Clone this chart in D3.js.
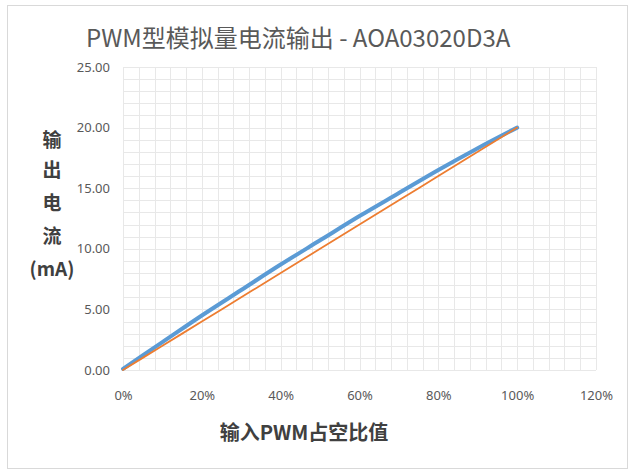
<!DOCTYPE html>
<html>
<head>
<meta charset="utf-8">
<script src="https://cdn.jsdelivr.net/npm/d3@7"></script>
<style>
  body { margin: 0; background: #fff; }
  text { font-family: "Noto Sans CJK SC", "Noto Sans", sans-serif; }
</style>
</head>
<body>
<script>
const width = 630;
const height = 474;

// duty cycle (%) and output current (mA)
const duty = [0, 10, 20, 30, 40, 50, 60, 70, 80, 90, 100];
const measured = [0.1, 2.3, 4.5, 6.6, 8.7, 10.7, 12.7, 14.6, 16.5, 18.3, 20.0];
const ideal = [0, 2, 4, 6, 8, 10, 12, 14, 16, 18, 20];

const xTicks = [0, 20, 40, 60, 80, 100, 120];
const yTicks = [0, 5, 10, 15, 20, 25];
const yLabel = ["输", "出", "电", "流", "(mA)"];

const svg = d3.select("body").append("svg")
  .attr("width", width).attr("height", height);

// outer frame
svg.append("rect")
  .attr("x", 7.5).attr("y", 5.5)
  .attr("width", 620).attr("height", 463)
  .attr("fill", "#fff").attr("stroke", "#d9d9d9");

const x = d3.scaleLinear().domain([0, 120]).range([123, 596]);
const y = d3.scaleLinear().domain([0, 25]).range([370, 67]);

// minor grid: every 4% and every 1 mA
const grid = svg.append("g").attr("stroke", "#e8e8e8").attr("stroke-width", 1);
grid.selectAll("line.v")
  .data(d3.range(0, 121, 4))
  .join("line")
  .attr("x1", (d) => Math.round(x(d)) + 0.5).attr("x2", (d) => Math.round(x(d)) + 0.5)
  .attr("y1", y(0)).attr("y2", y(25));
grid.selectAll("line.h")
  .data(d3.range(0, 26, 1))
  .join("line")
  .attr("y1", (d) => Math.round(y(d)) + 0.5).attr("y2", (d) => Math.round(y(d)) + 0.5)
  .attr("x1", x(0)).attr("x2", x(120));

// axes (labels only)
const xAxis = svg.append("g")
  .attr("transform", `translate(0,${y(0)})`)
  .call(d3.axisBottom(x).tickValues(xTicks).tickSize(0).tickPadding(21).tickFormat((d) => d + "%"));
const yAxis = svg.append("g")
  .attr("transform", `translate(${x(0)},0)`)
  .call(d3.axisLeft(y).tickValues(yTicks).tickSize(0).tickPadding(13).tickFormat(d3.format(".2f")));
[xAxis, yAxis].forEach((a) => {
  a.select(".domain").remove();
  a.selectAll("text")
    .attr("fill", "#595959")
    .style("font-size", "13px")
    .style("font-family", "'Noto Sans', sans-serif");
});

const line = d3.line()
  .x((d, i) => x(duty[i]))
  .y((d) => y(d))
  .curve(d3.curveMonotoneX);

svg.append("path")
  .datum(measured)
  .attr("d", line)
  .attr("fill", "none")
  .attr("stroke", "#5b9bd5")
  .attr("stroke-width", 4)
  .attr("stroke-linecap", "round");

svg.append("path")
  .datum(ideal)
  .attr("d", line)
  .attr("fill", "none")
  .attr("stroke", "#ed7d31")
  .attr("stroke-width", 1.8)
  .attr("stroke-linecap", "round");

// title
svg.append("text")
  .attr("x", 86).attr("y", 47)
  .attr("fill", "#595959")
  .style("font-size", "24px")
  .text("PWM型模拟量电流输出 - AOA03020D3A");

// y axis title, stacked
svg.append("g")
  .selectAll("text")
  .data(yLabel)
  .join("text")
  .attr("x", 52)
  .attr("y", (d, i) => [147, 177, 210, 243, 276][i])
  .attr("text-anchor", "middle")
  .attr("fill", "#404040")
  .style("font-size", "19px")
  .style("font-weight", "bold")
  .text((d) => d);

// x axis title
svg.append("text")
  .attr("x", 304).attr("y", 440)
  .attr("text-anchor", "middle")
  .attr("fill", "#404040")
  .style("font-size", "20px")
  .style("font-weight", "bold")
  .text("输入PWM占空比值");
</script>
</body>
</html>
